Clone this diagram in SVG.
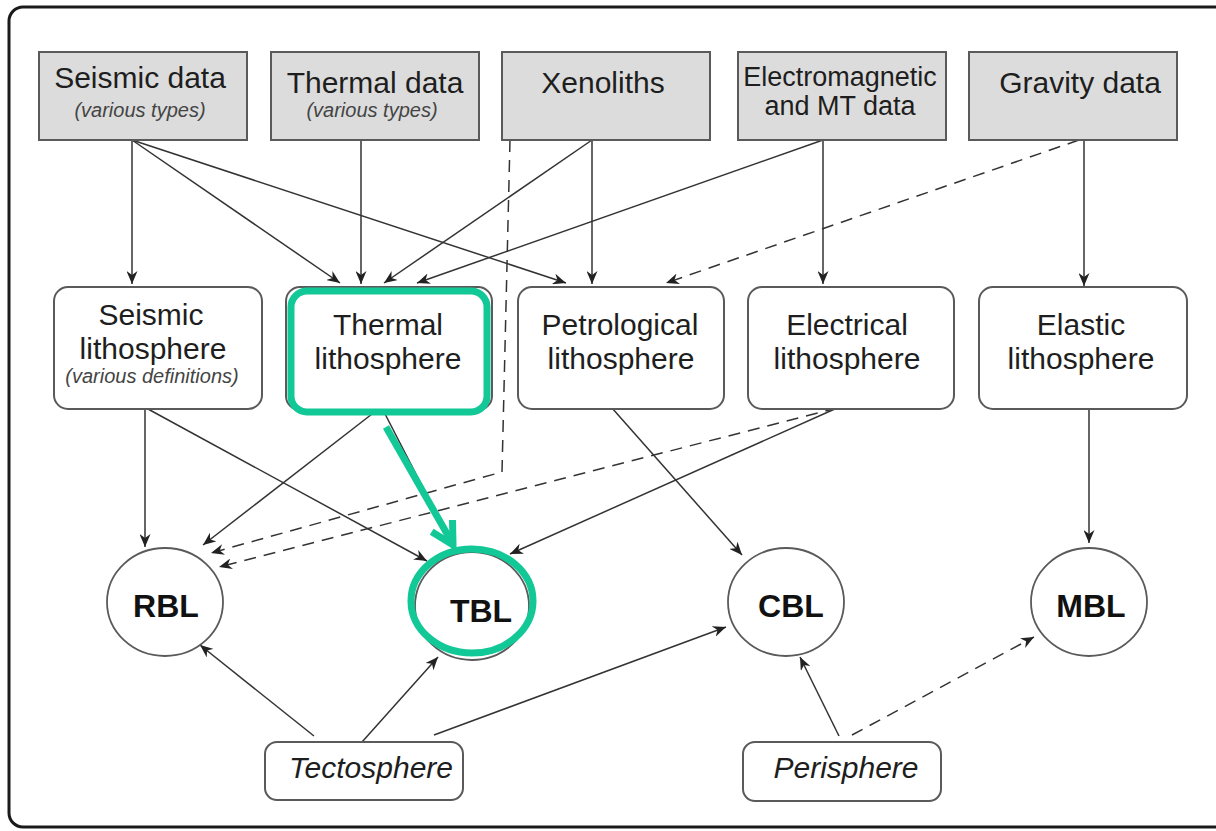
<svg xmlns="http://www.w3.org/2000/svg" width="1216" height="831" viewBox="0 0 1216 831">
<style>
.frame{fill:#fff;stroke:#1a1a1a;stroke-width:3}
.data{fill:#dcdcdc;stroke:#5a5a5a;stroke-width:2}
.lith{fill:#fff;stroke:#5a5a5a;stroke-width:2}
.circ{fill:#fff;stroke:#5a5a5a;stroke-width:1.8}
.t{font-family:"Liberation Sans",Arial,sans-serif;fill:#1e1e1e;text-anchor:middle}
.h{font-size:30px}
.em{font-size:27px}
.sub{font-size:20px;font-style:italic;fill:#444}
.bl{font-size:32px;font-weight:bold;fill:#111}
.it{font-size:30px;font-style:italic}
.c{fill:none;stroke:#333;stroke-width:1.5}
.d{stroke-dasharray:12 8}
.g{fill:none;stroke:#12c896;stroke-width:7}
</style>
<defs>
<marker id="ah" viewBox="0 0 13 11" refX="13" refY="5.5" markerWidth="13" markerHeight="11" orient="auto" markerUnits="userSpaceOnUse">
<path d="M0,0 L13,5.5 L0,11 L4,5.5 z" fill="#222"/>
</marker>
</defs>
<rect class="frame" x="9" y="7" width="1240" height="820" rx="14"/>

<g id="connectors">
<line class="c" x1="132" y1="140" x2="132" y2="284" marker-end="url(#ah)"/>
<line class="c" x1="132" y1="140" x2="340" y2="283" marker-end="url(#ah)"/>
<line class="c" x1="132" y1="140" x2="566" y2="283" marker-end="url(#ah)"/>
<line class="c" x1="361" y1="140" x2="361" y2="284" marker-end="url(#ah)"/>
<line class="c" x1="592" y1="140" x2="384" y2="283" marker-end="url(#ah)"/>
<line class="c" x1="592" y1="140" x2="592" y2="284" marker-end="url(#ah)"/>
<polyline class="c d" points="510,140 502,472 211,553" marker-end="url(#ah)"/>
<line class="c" x1="823" y1="140" x2="417" y2="283" marker-end="url(#ah)"/>
<line class="c" x1="823" y1="140" x2="823" y2="284" marker-end="url(#ah)"/>
<line class="c d" x1="1079" y1="140" x2="666" y2="283" marker-end="url(#ah)"/>
<line class="c" x1="1084" y1="140" x2="1084" y2="286" marker-end="url(#ah)"/>
<line class="c" x1="145" y1="409" x2="145" y2="547" marker-end="url(#ah)"/>
<line class="c" x1="148" y1="409" x2="427" y2="561" marker-end="url(#ah)"/>
<line class="c" x1="372" y1="414" x2="203" y2="545" marker-end="url(#ah)"/>
<line class="c" x1="383" y1="410" x2="453" y2="546"/>
<line class="c" x1="612" y1="408" x2="742" y2="555" marker-end="url(#ah)"/>
<line class="c" x1="837" y1="408" x2="510" y2="554" marker-end="url(#ah)"/>
<line class="c d" x1="837" y1="408" x2="219" y2="567" marker-end="url(#ah)"/>
<line class="c" x1="1089" y1="409" x2="1089" y2="543" marker-end="url(#ah)"/>
<line class="c" x1="314" y1="736" x2="200" y2="645" marker-end="url(#ah)"/>
<line class="c" x1="362" y1="742" x2="438" y2="657" marker-end="url(#ah)"/>
<line class="c" x1="434" y1="735" x2="726" y2="627" marker-end="url(#ah)"/>
<line class="c" x1="839" y1="736" x2="800" y2="657" marker-end="url(#ah)"/>
<line class="c d" x1="852" y1="735" x2="1034" y2="637" marker-end="url(#ah)"/>
<line class="g" x1="386" y1="427" x2="450" y2="539"/>
<polyline class="g" points="431.7,531.8 453,545 452.5,520" stroke-linejoin="miter"/>
</g>

<g id="seismic-data">
<rect class="data" x="39" y="52" width="208" height="88"/>
<text class="t h" x="140" y="88">Seismic data</text>
<text class="t sub" x="140" y="117">(various types)</text>
</g>
<g id="thermal-data">
<rect class="data" x="271" y="52" width="208" height="88"/>
<text class="t h" x="375" y="93">Thermal data</text>
<text class="t sub" x="372" y="117">(various types)</text>
</g>
<g id="xenoliths">
<rect class="data" x="502" y="52" width="208" height="88"/>
<text class="t h" x="603" y="93">Xenoliths</text>
</g>
<g id="em-data">
<rect class="data" x="738" y="52" width="208" height="88"/>
<text class="t em" x="840" y="86">Electromagnetic</text>
<text class="t em" x="840" y="115">and MT data</text>
</g>
<g id="gravity-data">
<rect class="data" x="969" y="52" width="208" height="88"/>
<text class="t h" x="1080" y="93">Gravity data</text>
</g>

<g id="seismic-lith">
<rect class="lith" x="54" y="287" width="208" height="122" rx="14"/>
<text class="t h" x="151" y="325">Seismic</text>
<text class="t h" x="153" y="359">lithosphere</text>
<text class="t sub" x="152" y="383">(various definitions)</text>
</g>
<g id="thermal-lith">
<rect class="lith" x="286" y="287" width="206" height="123" rx="14"/>
<rect class="g" x="291" y="291" width="196" height="121" rx="16"/>
<text class="t h" x="388" y="335">Thermal</text>
<text class="t h" x="388" y="369">lithosphere</text>
</g>
<g id="petro-lith">
<rect class="lith" x="518" y="287" width="206" height="122" rx="14"/>
<text class="t h" x="620" y="335">Petrological</text>
<text class="t h" x="621" y="369">lithosphere</text>
</g>
<g id="electrical-lith">
<rect class="lith" x="748" y="287" width="206" height="122" rx="14"/>
<text class="t h" x="847" y="335">Electrical</text>
<text class="t h" x="847" y="369">lithosphere</text>
</g>
<g id="elastic-lith">
<rect class="lith" x="979" y="287" width="208" height="122" rx="14"/>
<text class="t h" x="1081" y="335">Elastic</text>
<text class="t h" x="1081" y="369">lithosphere</text>
</g>

<g id="rbl">
<ellipse class="circ" cx="165" cy="602" rx="58" ry="54"/>
<text class="t bl" x="166" y="617">RBL</text>
</g>
<g id="tbl">
<ellipse class="circ" cx="472" cy="606" rx="57" ry="54"/>
<ellipse class="g" cx="472" cy="601" rx="61" ry="52" stroke-width="8"/>
<text class="t bl" x="481" y="622">TBL</text>
</g>
<g id="cbl">
<ellipse class="circ" cx="786" cy="602" rx="58" ry="54"/>
<text class="t bl" x="791" y="617">CBL</text>
</g>
<g id="mbl">
<ellipse class="circ" cx="1089" cy="602" rx="58" ry="54"/>
<text class="t bl" x="1091" y="617">MBL</text>
</g>

<g id="tectosphere">
<rect class="lith" x="265" y="742" width="198" height="58" rx="12"/>
<text class="t it" x="371" y="778">Tectosphere</text>
</g>
<g id="perisphere">
<rect class="lith" x="743" y="742" width="198" height="59" rx="12"/>
<text class="t it" x="846" y="778">Perisphere</text>
</g>
</svg>
